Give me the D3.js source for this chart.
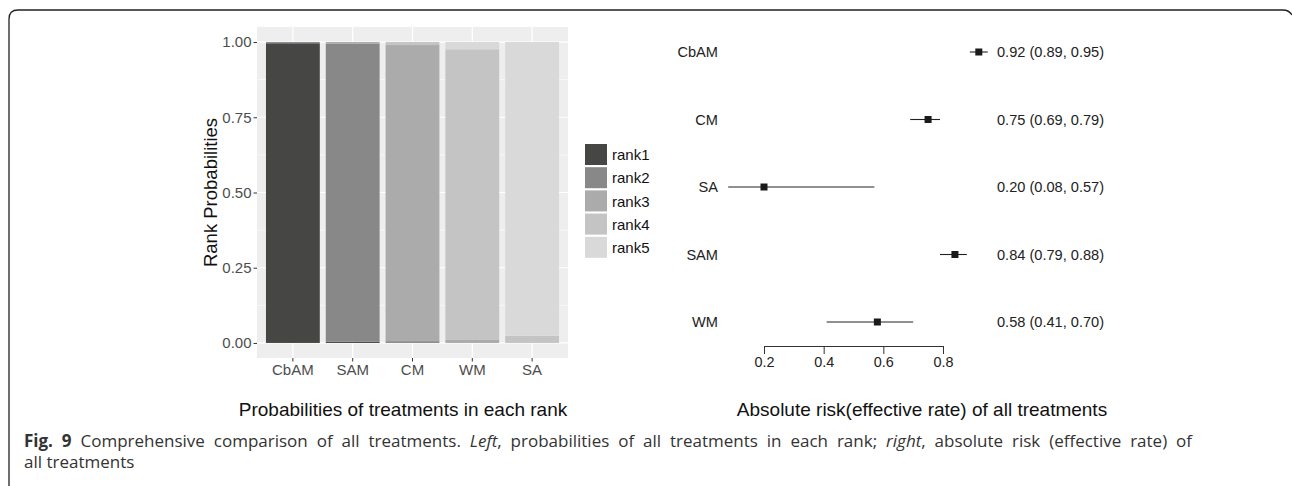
<!DOCTYPE html>
<html>
<head>
<meta charset="utf-8">
<script src="https://cdn.jsdelivr.net/npm/d3@7"></script>
<style>
  html, body { margin: 0; padding: 0; background: #fff; }
  svg { display: block; }
  .chart text { font-family: "Liberation Sans", Arimo, Helvetica, Arial, sans-serif; }
  .caption { font-family: "Open Sans", sans-serif; }
</style>
</head>
<body>
<svg id="fig" width="1292" height="486"></svg>
<script>
// left panel: rank probabilities (stacked, rank1 at the bottom)
const treatments = ["CbAM", "SAM", "CM", "WM", "SA"];
const ranks = ["rank1", "rank2", "rank3", "rank4", "rank5"];
const rankProbs = [
  [0.996, 0.004, 0, 0, 0],       // CbAM
  [0.004, 0.990, 0.006, 0, 0],   // SAM
  [0, 0.006, 0.984, 0.010, 0],   // CM
  [0, 0, 0.010, 0.966, 0.024],   // WM
  [0, 0, 0, 0.024, 0.976]        // SA
];
const rankColors = ["#464644", "#888888", "#aaabaa", "#c3c4c3", "#d9d9d9"];
const yTicks = [0, 0.25, 0.5, 0.75, 1];

// right panel: absolute risk
const arTreatments = ["CbAM", "CM", "SA", "SAM", "WM"];
const arEst = [0.92, 0.75, 0.20, 0.84, 0.58];
const arLow = [0.89, 0.69, 0.08, 0.79, 0.41];
const arHigh = [0.95, 0.79, 0.57, 0.88, 0.70];
const arTicks = [0.2, 0.4, 0.6, 0.8];

const svg = d3.select("#fig");
const chart = svg.append("g").attr("class", "chart");

// frame round the figure
svg.append("path")
  .attr("d", "M9,486 V19 Q9,10 18,10 H1283 Q1289,10 1292,15")
  .attr("fill", "none").attr("stroke", "#222").attr("stroke-width", 1.3);

// ---------- left: stacked bars ----------
const x = d3.scaleBand().domain(treatments).range([257, 568]).paddingInner(0.1).paddingOuter(0.15);
const y = d3.scaleLinear().domain([-0.05, 1.05]).range([358, 27]);

const left = chart.append("g");
left.append("rect").attr("x", 257).attr("y", 27).attr("width", 311).attr("height", 331).attr("fill", "#edeeed");

// minor grid
left.selectAll(".minor").data([0.125, 0.375, 0.625, 0.875]).enter().append("line")
  .attr("x1", 257).attr("x2", 568).attr("y1", d => y(d)).attr("y2", d => y(d))
  .attr("stroke", "#fff").attr("stroke-width", 0.6);
// major grid
left.selectAll(".hmajor").data(yTicks).enter().append("line")
  .attr("x1", 257).attr("x2", 568).attr("y1", d => y(d)).attr("y2", d => y(d))
  .attr("stroke", "#fff").attr("stroke-width", 1.2);
left.selectAll(".vmajor").data(treatments).enter().append("line")
  .attr("x1", d => x(d) + x.bandwidth() / 2).attr("x2", d => x(d) + x.bandwidth() / 2)
  .attr("y1", 27).attr("y2", 358)
  .attr("stroke", "#fff").attr("stroke-width", 1.2);

const stackRows = treatments.map((t, i) => {
  const row = { treatment: t };
  ranks.forEach((r, j) => row[r] = rankProbs[i][j]);
  return row;
});
const series = d3.stack().keys(ranks)(stackRows);
left.selectAll(".series").data(series).enter().append("g")
  .attr("fill", (d, i) => rankColors[i])
  .selectAll("rect").data(d => d).enter().append("rect")
  .attr("x", d => x(d.data.treatment))
  .attr("width", x.bandwidth())
  .attr("y", d => y(d[1]))
  .attr("height", d => y(d[0]) - y(d[1]));

// axes
const yAxis = left.append("g").attr("transform", "translate(257,0)")
  .call(d3.axisLeft(y).tickValues(yTicks).tickFormat(d3.format(".2f")).tickSize(3.5).tickPadding(2));
const xAxis = left.append("g").attr("transform", "translate(0,358)")
  .call(d3.axisBottom(x).tickSize(3.5).tickPadding(3));
[yAxis, xAxis].forEach(a => {
  a.select(".domain").remove();
  a.attr("font-family", null).attr("font-size", null);
  a.selectAll(".tick line").attr("stroke", "#333");
  a.selectAll(".tick text").attr("fill", "#4d4d4d").style("font-size", "15px");
});

left.append("text")
  .attr("transform", "translate(217,192.5) rotate(-90)")
  .attr("text-anchor", "middle")
  .style("font-size", "18.5px").attr("fill", "#111")
  .text("Rank Probabilities");

// legend
const legend = chart.append("g").attr("transform", "translate(585,144)");
const lg = legend.selectAll("g").data(ranks).enter().append("g")
  .attr("transform", (d, i) => `translate(0,${i * 23.2})`);
lg.append("rect").attr("width", 22).attr("height", 21).attr("fill", (d, i) => rankColors[i]);
lg.append("text").attr("x", 27).attr("y", 11).attr("dy", "0.35em")
  .style("font-size", "15px").attr("fill", "#111")
  .text(d => d);

chart.append("text").attr("x", 403).attr("y", 416).attr("text-anchor", "middle")
  .style("font-size", "19px").attr("fill", "#111")
  .text("Probabilities of treatments in each rank");

// ---------- right: forest plot ----------
const fx = d3.scaleLinear().domain([0.2, 0.8]).range([764, 943]);
const fy = d3.scalePoint().domain(arTreatments).range([52, 322]);

const right = chart.append("g");
right.selectAll(".lab").data(arTreatments).enter().append("text")
  .attr("x", 718).attr("y", d => fy(d)).attr("dy", "0.35em").attr("text-anchor", "end")
  .style("font-size", "14.6px").attr("fill", "#222")
  .text(d => d);

right.selectAll(".ci").data(arTreatments).enter().append("line")
  .attr("x1", (d, i) => fx(arLow[i])).attr("x2", (d, i) => fx(arHigh[i]))
  .attr("y1", d => fy(d)).attr("y2", d => fy(d))
  .attr("stroke", "#222").attr("stroke-width", 1.1);
right.selectAll(".pt").data(arTreatments).enter().append("rect")
  .attr("x", (d, i) => fx(arEst[i]) - 3.5).attr("y", d => fy(d) - 3.5)
  .attr("width", 7).attr("height", 7).attr("fill", "#1a1a1a");

right.selectAll(".val").data(arTreatments).enter().append("text")
  .attr("x", 997).attr("y", d => fy(d)).attr("dy", "0.35em")
  .style("font-size", "14.6px").attr("fill", "#222")
  .text((d, i) => `${arEst[i].toFixed(2)} (${arLow[i].toFixed(2)}, ${arHigh[i].toFixed(2)})`);

const fAxis = right.append("g").attr("transform", "translate(0,346)")
  .call(d3.axisBottom(fx).tickValues(arTicks).tickFormat(d3.format(".1f")).tickSize(8).tickPadding(3).tickSizeOuter(0));
fAxis.attr("font-family", null).attr("font-size", null);
fAxis.select(".domain").attr("stroke", "#333");
fAxis.selectAll(".tick line").attr("stroke", "#333");
fAxis.selectAll(".tick text").attr("fill", "#222").style("font-size", "14.4px");

chart.append("text").attr("x", 922).attr("y", 416).attr("text-anchor", "middle")
  .style("font-size", "19px").attr("fill", "#111")
  .text("Absolute risk(effective rate) of all treatments");

// ---------- caption (first line justified) ----------
const cap = svg.append("text").attr("class", "caption").attr("x", 24).attr("y", 447)
  .style("font-size", "17px").attr("fill", "#333");
cap.append("tspan").attr("font-weight", "bold").text("Fig. 9");
cap.append("tspan").text(" Comprehensive comparison of all treatments. ");
cap.append("tspan").attr("font-style", "italic").text("Left");
cap.append("tspan").text(", probabilities of all treatments in each rank; ");
cap.append("tspan").attr("font-style", "italic").text("right");
cap.append("tspan").text(", absolute risk (effective rate) of");
const capLen = cap.node().getComputedTextLength();
const gaps = cap.text().split(" ").length - 1;
cap.style("word-spacing", Math.max(0, (1168 - capLen) / gaps) + "px");

svg.append("text").attr("class", "caption").attr("x", 24).attr("y", 468)
  .style("font-size", "17px").attr("fill", "#333")
  .text("all treatments");
</script>
</body>
</html>
